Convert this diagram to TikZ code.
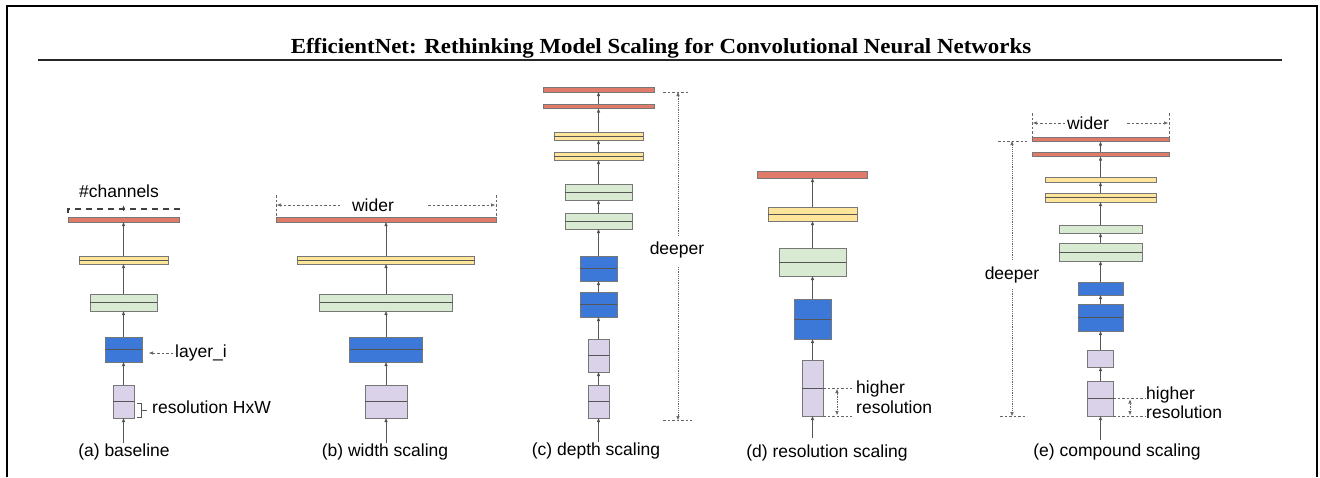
\documentclass[tikz,border=0pt]{standalone}
\usepackage{fontspec}
\setmainfont{Liberation Sans}
\newfontfamily\titlefont{Liberation Serif}
\usetikzlibrary{arrows.meta}
\definecolor{cred}{HTML}{E07B6A}
\definecolor{cyel}{HTML}{FFE59A}
\definecolor{cgrn}{HTML}{D9EAD3}
\definecolor{cblu}{HTML}{3C78D8}
\definecolor{cpur}{HTML}{D9D2E9}
\definecolor{cedge}{HTML}{777777}
\definecolor{carr}{HTML}{555555}
\definecolor{chelp}{HTML}{666666}
\tikzset{
  blk/.style={draw=cedge, line width=0.8pt, inner sep=0pt, outer sep=0pt},
  midl/.style={draw=carr, line width=0.8pt},
  conn/.style={draw=carr, line width=0.8pt, -{Triangle[length=4pt,width=3pt]}},
  lab/.style={inner sep=0pt, font=\fontsize{17.5}{20}\selectfont},
  helper/.style={draw=chelp, line width=0.7pt, dash pattern=on 2.5pt off 2pt},
  dotl/.style={draw=chelp, line width=0.8pt, dash pattern=on 1.2pt off 1pt},
  tip/.style={-{Triangle[length=4pt,width=3pt]}},
}
% name, cx, width, y1, y2, colour, midline(1/0)
\newcommand\mkblk[7]{%
  \node[blk, fill=#6, minimum width=#3, minimum height={#5-#4}] (#1) at (#2,{(#4+#5)/2}) {};
  \ifnum#7=1 \draw[midl] (#1.west) -- (#1.east);\fi
}
\begin{document}
\begin{tikzpicture}[x=1pt,y=-1pt]
\useasboundingbox (0,0) rectangle (1320,477);
% frame and title
\draw[line width=2.6pt] (7,477) -- (7,6) -- (1317,6) -- (1317,477);
\node[anchor=base, inner sep=0pt] (title) at (661,53)
  {\titlefont\bfseries\fontsize{21.5}{24}\selectfont\scalebox{1.065}[1]{EfficientNet: Rethinking Model Scaling for Convolutional Neural Networks}};
\draw[line width=1.8pt, black!85] (38,60) -- (1282,60);

% ---------------- (a) baseline
\mkblk{ap}{123.5}{21}{385}{418}{cpur}{1}
\mkblk{ab}{123.5}{37}{337}{362}{cblu}{1}
\mkblk{ag}{123.5}{67}{294}{311}{cgrn}{1}
\mkblk{ay}{123.5}{89}{256}{264}{cyel}{1}
\mkblk{ar}{123.5}{111}{217}{222}{cred}{0}
\coordinate (ain) at (123.5,443);
\draw[conn] (ain) -- (ap.south);
\draw[conn] (ap.north) -- (ab.south);
\draw[conn] (ab.north) -- (ag.south);
\draw[conn] (ag.north) -- (ay.south);
\draw[conn] (ay.north) -- (ar.south);
\node[lab] (achan) at (119,191) {\#channels};
\coordinate (acl) at (68,213);
\coordinate (acr) at (181,213);
\draw[line width=1.3pt, draw=black!75, dash pattern=on 6pt off 5pt] (acl) -- (68,209) -- (181,209) -- (acr);
\coordinate (acu0) at (123.5,211);
\coordinate (acu1) at (123.5,205.5);
\draw[draw=black!75, line width=0.8pt, tip] (acu0) -- (acu1);
\node[lab, anchor=west] (alay) at (175,353) {layer\_i};
\coordinate (alay0) at (173,353);
\coordinate (alay1) at (149,353);
\draw[helper, tip] (alay0) -- (alay1);
\draw[draw=carr, line width=0.9pt] (137,403) -- (141,403) -- (141,417) -- (137,417);
\draw[draw=carr, line width=0.9pt] (141,410) -- (147,410);
\node[lab, anchor=west] (ares) at (152,407.5) {resolution HxW};
\node[lab] (acap) at (124,452) {(a) baseline};

% ---------------- (b) width scaling
\mkblk{bp}{386}{42}{385}{418}{cpur}{1}
\mkblk{bb}{386}{73}{337}{362}{cblu}{1}
\mkblk{bg}{386}{133}{294}{311}{cgrn}{1}
\mkblk{by}{386}{177}{256}{264}{cyel}{1}
\mkblk{br}{386}{220}{217}{222}{cred}{0}
\coordinate (bin) at (386,443);
\draw[conn] (bin) -- (bp.south);
\draw[conn] (bp.north) -- (bb.south);
\draw[conn] (bb.north) -- (bg.south);
\draw[conn] (bg.north) -- (by.south);
\draw[conn] (by.north) -- (br.south);
\node[lab] (bw) at (373,205) {wider};
\draw[helper] (276,195) -- (276,216);
\draw[helper] (496,195) -- (496,216);
\coordinate (bwa) at (340,205); \coordinate (bwl) at (277,205);
\coordinate (bwb) at (428,205); \coordinate (bwr) at (495,205);
\draw[helper, tip] (bwa) -- (bwl);
\draw[helper, tip] (bwb) -- (bwr);
\node[lab] (bcap) at (385,452) {(b) width scaling};

% ---------------- (c) depth scaling
\mkblk{cpb}{598.5}{21}{385}{418}{cpur}{1}
\mkblk{cpa}{598.5}{21}{339}{372}{cpur}{1}
\mkblk{cbb}{598.5}{37}{292}{317}{cblu}{1}
\mkblk{cba}{598.5}{37}{256}{281}{cblu}{1}
\mkblk{cgb}{598.5}{67}{213}{229}{cgrn}{1}
\mkblk{cga}{598.5}{67}{184}{200}{cgrn}{1}
\mkblk{cyb}{598.5}{89}{152}{160}{cyel}{1}
\mkblk{cya}{598.5}{89}{132}{140}{cyel}{1}
\mkblk{crb}{598.5}{111}{104}{108.5}{cred}{0}
\mkblk{cra}{598.5}{111}{87}{92}{cred}{0}
\coordinate (cin) at (598.5,442);
\draw[conn] (cin) -- (cpb.south);
\draw[conn] (cpb.north) -- (cpa.south);
\draw[conn] (cpa.north) -- (cbb.south);
\draw[conn] (cbb.north) -- (cba.south);
\draw[conn] (cba.north) -- (cgb.south);
\draw[conn] (cgb.north) -- (cga.south);
\draw[conn] (cga.north) -- (cyb.south);
\draw[conn] (cyb.north) -- (cya.south);
\draw[conn] (cya.north) -- (crb.south);
\draw[conn] (crb.north) -- (cra.south);
\node[lab] (cdeep) at (677,250) {deeper};
\draw[helper] (663,92) -- (690,92);
\draw[helper] (663,420) -- (692,420);
\coordinate (cdt) at (678,92); \coordinate (cdb) at (678,420);
\coordinate (cdt0) at (678,236); \coordinate (cdb0) at (678,267);
\draw[dotl, tip] (cdt0) -- (cdt);
\draw[dotl, tip] (cdb0) -- (cdb);
\node[lab] (ccap) at (596,451) {(c) depth scaling};

% ---------------- (d) resolution scaling
\mkblk{dp}{812.5}{21}{360}{416}{cpur}{1}
\mkblk{db}{812.5}{37}{299}{339}{cblu}{1}
\mkblk{dg}{812.5}{67}{248}{276}{cgrn}{1}
\mkblk{dy}{812.5}{89}{207}{221}{cyel}{1}
\mkblk{dr}{812.5}{110}{171}{178}{cred}{0}
\coordinate (din) at (812.5,438);
\draw[conn] (din) -- (dp.south);
\draw[conn] (dp.north) -- (db.south);
\draw[conn] (db.north) -- (dg.south);
\draw[conn] (dg.north) -- (dy.south);
\draw[conn] (dy.north) -- (dr.south);
\draw[helper] (823,388) -- (852,388);
\draw[helper] (823,416) -- (852,416);
\coordinate (dh0) at (837,402); \coordinate (dht) at (837,389); \coordinate (dhb) at (837,415);
\draw[dotl, tip] (dh0) -- (dht);
\draw[dotl, tip] (dh0) -- (dhb);
\node[lab, anchor=west] (dhi) at (856,389) {higher};
\node[lab, anchor=west] (dre) at (856,407) {resolution};
\node[lab] (dcap) at (827,453) {(d) resolution scaling};

% ---------------- (e) compound scaling
\mkblk{epb}{1100.5}{26}{381}{416}{cpur}{1}
\mkblk{epa}{1100.5}{26}{350}{367}{cpur}{0}
\mkblk{ebb}{1100.5}{45}{304}{331}{cblu}{1}
\mkblk{eba}{1100.5}{45}{282}{295}{cblu}{0}
\mkblk{egb}{1100.5}{83}{243}{261}{cgrn}{1}
\mkblk{ega}{1100.5}{83}{225}{233}{cgrn}{0}
\mkblk{eyb}{1100.5}{111}{193}{202}{cyel}{1}
\mkblk{eya}{1100.5}{111}{177}{182}{cyel}{0}
\mkblk{erb}{1100.5}{137}{152}{156.5}{cred}{0}
\mkblk{era}{1100.5}{137}{137}{141.5}{cred}{0}
\coordinate (ein) at (1100.5,440);
\draw[conn] (ein) -- (epb.south);
\draw[conn] (epb.north) -- (epa.south);
\draw[conn] (epa.north) -- (ebb.south);
\draw[conn] (ebb.north) -- (eba.south);
\draw[conn] (eba.north) -- (egb.south);
\draw[conn] (egb.north) -- (ega.south);
\draw[conn] (ega.north) -- (eyb.south);
\draw[conn] (eyb.north) -- (eya.south);
\draw[conn] (eya.north) -- (erb.south);
\draw[conn] (erb.north) -- (era.south);
\node[lab] (ew) at (1088,123) {wider};
\draw[helper] (1032,113) -- (1032,137);
\draw[helper] (1169,113) -- (1169,137);
\coordinate (ewa) at (1065,123); \coordinate (ewl) at (1033,123);
\coordinate (ewb) at (1127,123); \coordinate (ewr) at (1168,123);
\draw[helper, tip] (ewa) -- (ewl);
\draw[helper, tip] (ewb) -- (ewr);
\node[lab] (edeep) at (1012,275) {deeper};
\draw[helper] (998,141) -- (1027,141);
\draw[helper] (1000,416) -- (1027,416);
\coordinate (edt) at (1012,141); \coordinate (edb) at (1012,416);
\coordinate (edt0) at (1012,260); \coordinate (edb0) at (1012,289);
\draw[dotl, tip] (edt0) -- (edt);
\draw[dotl, tip] (edb0) -- (edb);
\draw[helper] (1113,398.5) -- (1145,398.5);
\draw[helper] (1113,416) -- (1145,416);
\coordinate (eh0) at (1130,407); \coordinate (eht) at (1130,399.5); \coordinate (ehb) at (1130,415);
\draw[dotl, tip] (eh0) -- (eht);
\draw[dotl, tip] (eh0) -- (ehb);
\node[lab, anchor=west] (ehi) at (1146,395) {higher};
\node[lab, anchor=west] (ere) at (1146,412) {resolution};
\node[lab] (ecap) at (1117,452) {(e) compound scaling};
\end{tikzpicture}
\end{document}
